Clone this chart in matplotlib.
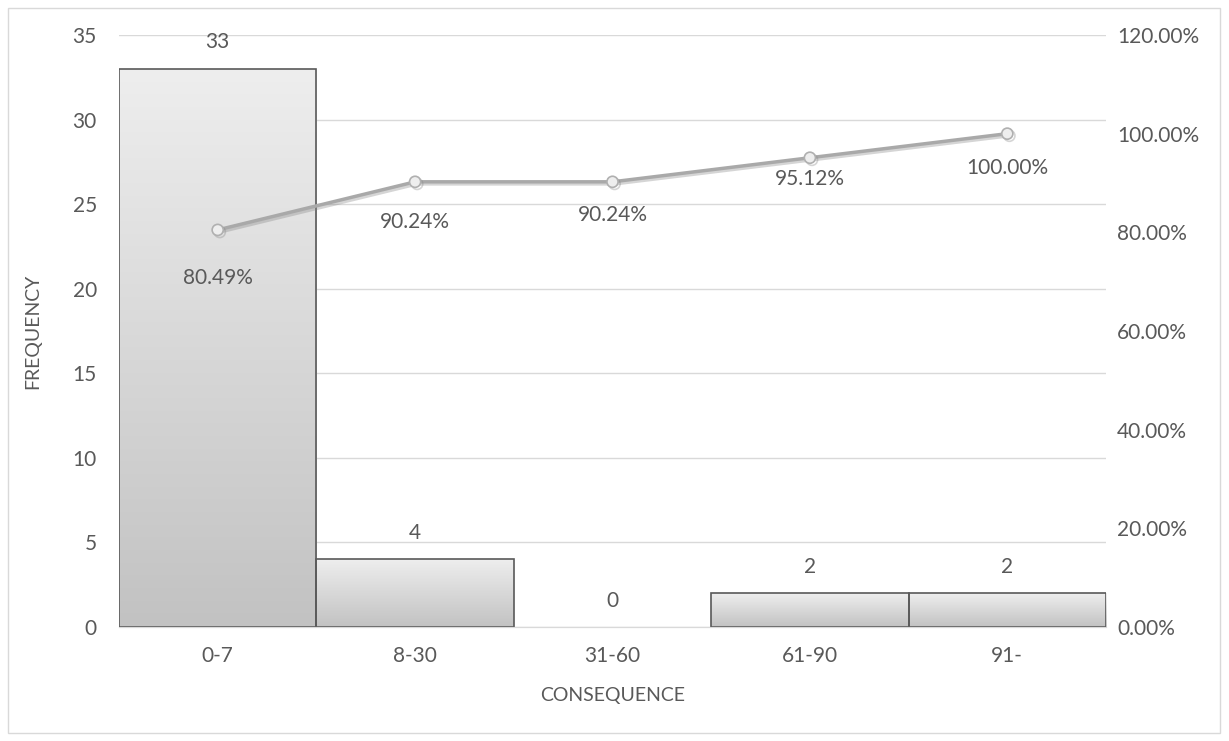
import numpy as np
import matplotlib.pyplot as plt
from matplotlib.patches import Rectangle
from matplotlib.colors import LinearSegmentedColormap
import matplotlib.patheffects as pe
from matplotlib.ticker import FuncFormatter

plt.rcParams['font.family'] = ['Lato', 'DejaVu Sans']

# data
categories = ['0-7', '8-30', '31-60', '61-90', '91-']
frequency = [33, 4, 0, 2, 2]
cumulative = [0.8049, 0.9024, 0.9024, 0.9512, 1.0]
cum_labels = ['80.49%', '90.24%', '90.24%', '95.12%', '100.00%']

# layout only: how far below each point its label sits (pixels)
label_drop = [48, 40, 33, 21, 34]

txt = '#595959'
grid = '#d9d9d9'
fs = 15

fig = plt.figure(figsize=(12.29, 7.41), dpi=100)
fig.patches.append(Rectangle((8 / 1229, 8 / 741), 1212 / 1229, 725 / 741,
                             transform=fig.transFigure, fill=False,
                             edgecolor=grid, linewidth=1.0))
ax = fig.add_axes([119 / 1229, 114 / 741, 987 / 1229, 592 / 741])
ax2 = ax.twinx()

x = np.arange(len(categories))
ax.yaxis.grid(True, color=grid, linewidth=1.0)
ax.set_axisbelow(True)

# gradient bars
grad = np.linspace(0, 1, 256).reshape(-1, 1)
cmap = LinearSegmentedColormap.from_list('g', ['#eeeeee', '#c2c2c2'])
for xi, h in zip(x, frequency):
    if h <= 0:
        continue
    rect = Rectangle((xi - 0.5, 0), 1.0, h, facecolor='none',
                     edgecolor='#595959', linewidth=1.2, zorder=3)
    ax.add_patch(rect)
    im = ax.imshow(grad, extent=(xi - 0.5, xi + 0.5, 0, h), origin='upper',
                   cmap=cmap, aspect='auto', zorder=2, interpolation='bicubic')
    im.set_clip_path(rect)
for xi, h in zip(x, frequency):
    ax.annotate(str(h), (xi, h), xytext=(0, 19), textcoords='offset points',
                ha='center', va='center', color=txt, fontsize=fs)
ax.set_aspect('auto')
ax.set_xlim(-0.5, len(categories) - 0.5)
ax.set_ylim(0, 35)
ax.set_yticks(np.arange(0, 36, 5))

# cumulative line on secondary axis
ax2.set_ylim(0, 1.2)
ax2.set_yticks(np.arange(0, 1.21, 0.2))
ax2.yaxis.set_major_formatter(FuncFormatter(lambda v, p: f'{v * 100:.2f}%'))
shadow = [pe.SimpleLineShadow(offset=(1.5, -1.5), shadow_color='#888888', alpha=0.35),
          pe.Normal()]
ax2.plot(x, cumulative, color='#a9a9a9', linewidth=2.5, marker='o',
         markersize=8, markerfacecolor='#eeeeee', markeredgecolor='#b0b0b0',
         markeredgewidth=1.2, zorder=5, path_effects=shadow)
for xi, v, lab, d in zip(x, cumulative, cum_labels, label_drop):
    ax2.annotate(lab, (xi, v), xytext=(0, -d * 0.72), textcoords='offset points',
                 ha='center', va='center', color=txt, fontsize=fs)

ax.set_xticks(x)
ax.set_xticklabels(categories)
ax.set_xlabel('CONSEQUENCE', color=txt, fontsize=14)
ax.set_ylabel('FREQUENCY', color=txt, fontsize=14)
ax.xaxis.set_label_coords(0.5, (627 - 695) / 592)
ax.xaxis.label.set_va('center')
ax.yaxis.set_label_coords((33 - 119) / 987, 0.5)
ax.yaxis.label.set_va('center')

for a in (ax, ax2):
    for s in ('left', 'right', 'top'):
        a.spines[s].set_visible(False)
    a.spines['bottom'].set_color(grid)
    a.tick_params(length=0, colors=txt, labelsize=fs)
ax.tick_params(axis='x', pad=14)
ax.tick_params(axis='y', pad=16)
ax2.tick_params(axis='y', pad=8)

fig.savefig('out.png', dpi=100)
